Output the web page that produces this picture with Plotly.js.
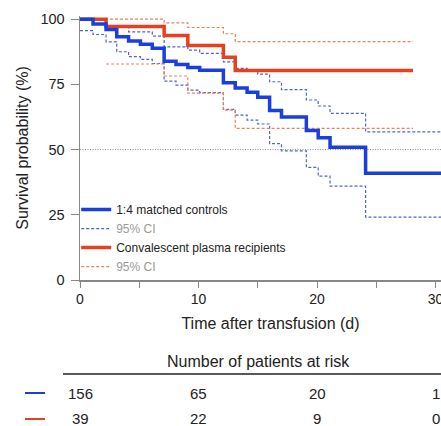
<!DOCTYPE html>
<html>
<head>
<meta charset="utf-8">
<script src="https://cdn.plot.ly/plotly-3.0.1.min.js"></script>
<style>
html, body { margin: 0; padding: 0; overflow: hidden; background: #fff; }
#chart { width: 461px; height: 426px; }
</style>
</head>
<body>
<div id="chart"></div>
<script>
// Kaplan-Meier: 1:4 matched controls (blue)
var blueTime  = [0, 1.1, 2.2, 3.1, 4.1, 5.1, 6.1, 7.1, 8.1, 9.1, 10.1, 12.1, 13.1, 14.1, 15.0, 16.0, 17.0, 19.1, 20.1, 21.1, 24.1, 32.2];
var blueSurv  = [100, 98.1, 96.0, 93.2, 91.6, 90.4, 88.8, 83.9, 82.6, 81.5, 80.4, 75.6, 73.6, 72.0, 70.1, 65.0, 62.5, 57.3, 54.5, 50.9, 40.9, 40.9];
var blueLower = [95.6, 94.1, 91.3, 87.5, 85.6, 84.6, 83.0, 76.2, 74.7, 72.8, 71.8, 65.4, 63.2, 61.3, 59.8, 52.3, 49.5, 43.2, 39.8, 36.0, 24.1, 24.1];
var blueUpperTime = [0, 2.2, 4.1, 6.1, 7.1, 9.1, 10.1, 12.1, 13.1, 14.1, 15.0, 16.0, 17.0, 19.1, 20.1, 21.1, 24.1, 32.2];
var blueUpper     = [100, 96.8, 95.1, 93.5, 89.4, 88.1, 86.9, 83.6, 81.1, 80.2, 78.9, 76.0, 73.0, 69.0, 66.7, 63.9, 56.8, 56.8];

// Convalescent plasma recipients (red)
var redTime  = [0, 2.2, 7.1, 9.1, 12.1, 13.1, 28.1];
var redSurv  = [100, 97.2, 93.7, 89.9, 85.4, 80.3, 80.3];
var redUpperTime = [0, 7.1, 9.1, 12.1, 13.1, 28.1];
var redUpper     = [100, 98.6, 96.8, 94.4, 91.4, 91.4];
var redLowerTime = [2.2, 7.1, 9.1, 12.1, 13.1, 28.1];
var redLower     = [82.8, 78.2, 71.6, 65.1, 58.1, 58.1];

// Number at risk table
var riskTimes = [0, 10, 20, 30];
var riskBlue  = [156, 65, 20, 1];
var riskRed   = [39, 22, 9, 0];

var xTickVals = [0, 5, 10, 15, 20, 25, 30];
var xTickText = ['0', '', '10', '', '20', '', '30'];
var yTickVals = [0, 25, 50, 75, 100];

var BLUE = '#1b3fdc', RED = '#e8401e';
var BLUE_CI = '#4d66c8', RED_CI = '#e8845c';
var FONT = 'Liberation Sans, Arial, Helvetica, sans-serif';
var TXT = '#222';
var ciDash = '3px,2px';

var traces = [
  {x: blueTime, y: blueLower, mode: 'lines', line: {shape: 'hv', color: BLUE_CI, width: 1.2, dash: ciDash}, showlegend: false, hoverinfo: 'skip'},
  {x: blueUpperTime, y: blueUpper, mode: 'lines', name: '<span style="color:#9a9a9a">95% CI</span>', legendrank: 2,
   line: {shape: 'hv', color: BLUE_CI, width: 1.2, dash: ciDash}, hoverinfo: 'skip'},
  {x: redLowerTime, y: redLower, mode: 'lines', line: {shape: 'hv', color: RED_CI, width: 1.2, dash: ciDash}, showlegend: false, hoverinfo: 'skip'},
  {x: redUpperTime, y: redUpper, mode: 'lines', name: '<span style="color:#9a9a9a">95% CI</span>', legendrank: 4,
   line: {shape: 'hv', color: RED_CI, width: 1.2, dash: ciDash}, hoverinfo: 'skip'},
  {x: redTime, y: redSurv, mode: 'lines', name: 'Convalescent plasma recipients', legendrank: 3,
   line: {shape: 'hv', color: RED, width: 3.5}},
  {x: blueTime, y: blueSurv, mode: 'lines', name: '1:4 matched controls', legendrank: 1,
   line: {shape: 'hv', color: BLUE, width: 3.5}}
];

var annotations = [];
var PX = function (px) { return (px - 80) / 381; };
var PY = function (py) { return (280 - py) / 264; };
annotations.push({xref: 'paper', yref: 'paper', x: PX(258), y: PY(361), text: 'Number of patients at risk',
  showarrow: false, xanchor: 'center', yanchor: 'middle', font: {family: FONT, size: 16, color: TXT}});
for (var i = 0; i < riskTimes.length; i++) {
  annotations.push({xref: 'x', yref: 'paper', x: riskTimes[i], y: PY(393), text: String(riskBlue[i]),
    showarrow: false, xanchor: 'center', yanchor: 'middle', font: {family: FONT, size: 15, color: TXT}});
  annotations.push({xref: 'x', yref: 'paper', x: riskTimes[i], y: PY(419), text: String(riskRed[i]),
    showarrow: false, xanchor: 'center', yanchor: 'middle', font: {family: FONT, size: 15, color: TXT}});
}

var shapes = [
  {type: 'line', xref: 'paper', yref: 'y', x0: 0, x1: 1, y0: 50, y1: 50, line: {color: '#8a8a8a', width: 1, dash: '1px,1.5px'}, layer: 'below'},
  {type: 'line', xref: 'paper', yref: 'paper', x0: PX(63), x1: 1, y0: PY(374), y1: PY(374), line: {color: '#222', width: 1.5}},
  {type: 'line', xref: 'paper', yref: 'paper', x0: PX(25), x1: PX(45), y0: PY(393), y1: PY(393), line: {color: BLUE, width: 2}},
  {type: 'line', xref: 'paper', yref: 'paper', x0: PX(25), x1: PX(45), y0: PY(419), y1: PY(419), line: {color: RED, width: 2}}
];

var layout = {
  width: 461, height: 426,
  margin: {l: 80, r: 0, t: 16, b: 146},
  paper_bgcolor: '#fff', plot_bgcolor: '#fff',
  font: {family: FONT, color: TXT, size: 14},
  showlegend: true,
  legend: {x: -0.01, y: -0.004, xanchor: 'left', yanchor: 'bottom', bgcolor: 'rgba(0,0,0,0)',
    font: {family: FONT, size: 12, color: TXT}, itemwidth: 30, tracegroupgap: 0},
  xaxis: {range: [0, 32.15], tickvals: xTickVals, ticktext: xTickText, ticks: 'outside', ticklen: 6,
    tickcolor: '#888', tickwidth: 1, showline: true, linecolor: '#888', linewidth: 1.5, showgrid: false, zeroline: false,
    tickfont: {family: FONT, size: 14, color: TXT},
    title: {text: 'Time after transfusion (d)', font: {family: FONT, size: 16, color: TXT}, standoff: 11}},
  yaxis: {range: [0, 101.2], tickvals: yTickVals, ticks: 'outside', ticklen: 8, tickcolor: '#888', tickwidth: 1,
    ticklabelstandoff: 3,
    showline: true, linecolor: '#888', linewidth: 1.5, showgrid: false, zeroline: false,
    tickfont: {family: FONT, size: 14.5, color: TXT},
    title: {text: 'Survival probability (%)', font: {family: FONT, size: 16, color: TXT}, standoff: 8}},
  annotations: annotations,
  shapes: shapes
};

Plotly.newPlot('chart', traces, layout, {displayModeBar: false, staticPlot: true});
</script>
</body>
</html>
